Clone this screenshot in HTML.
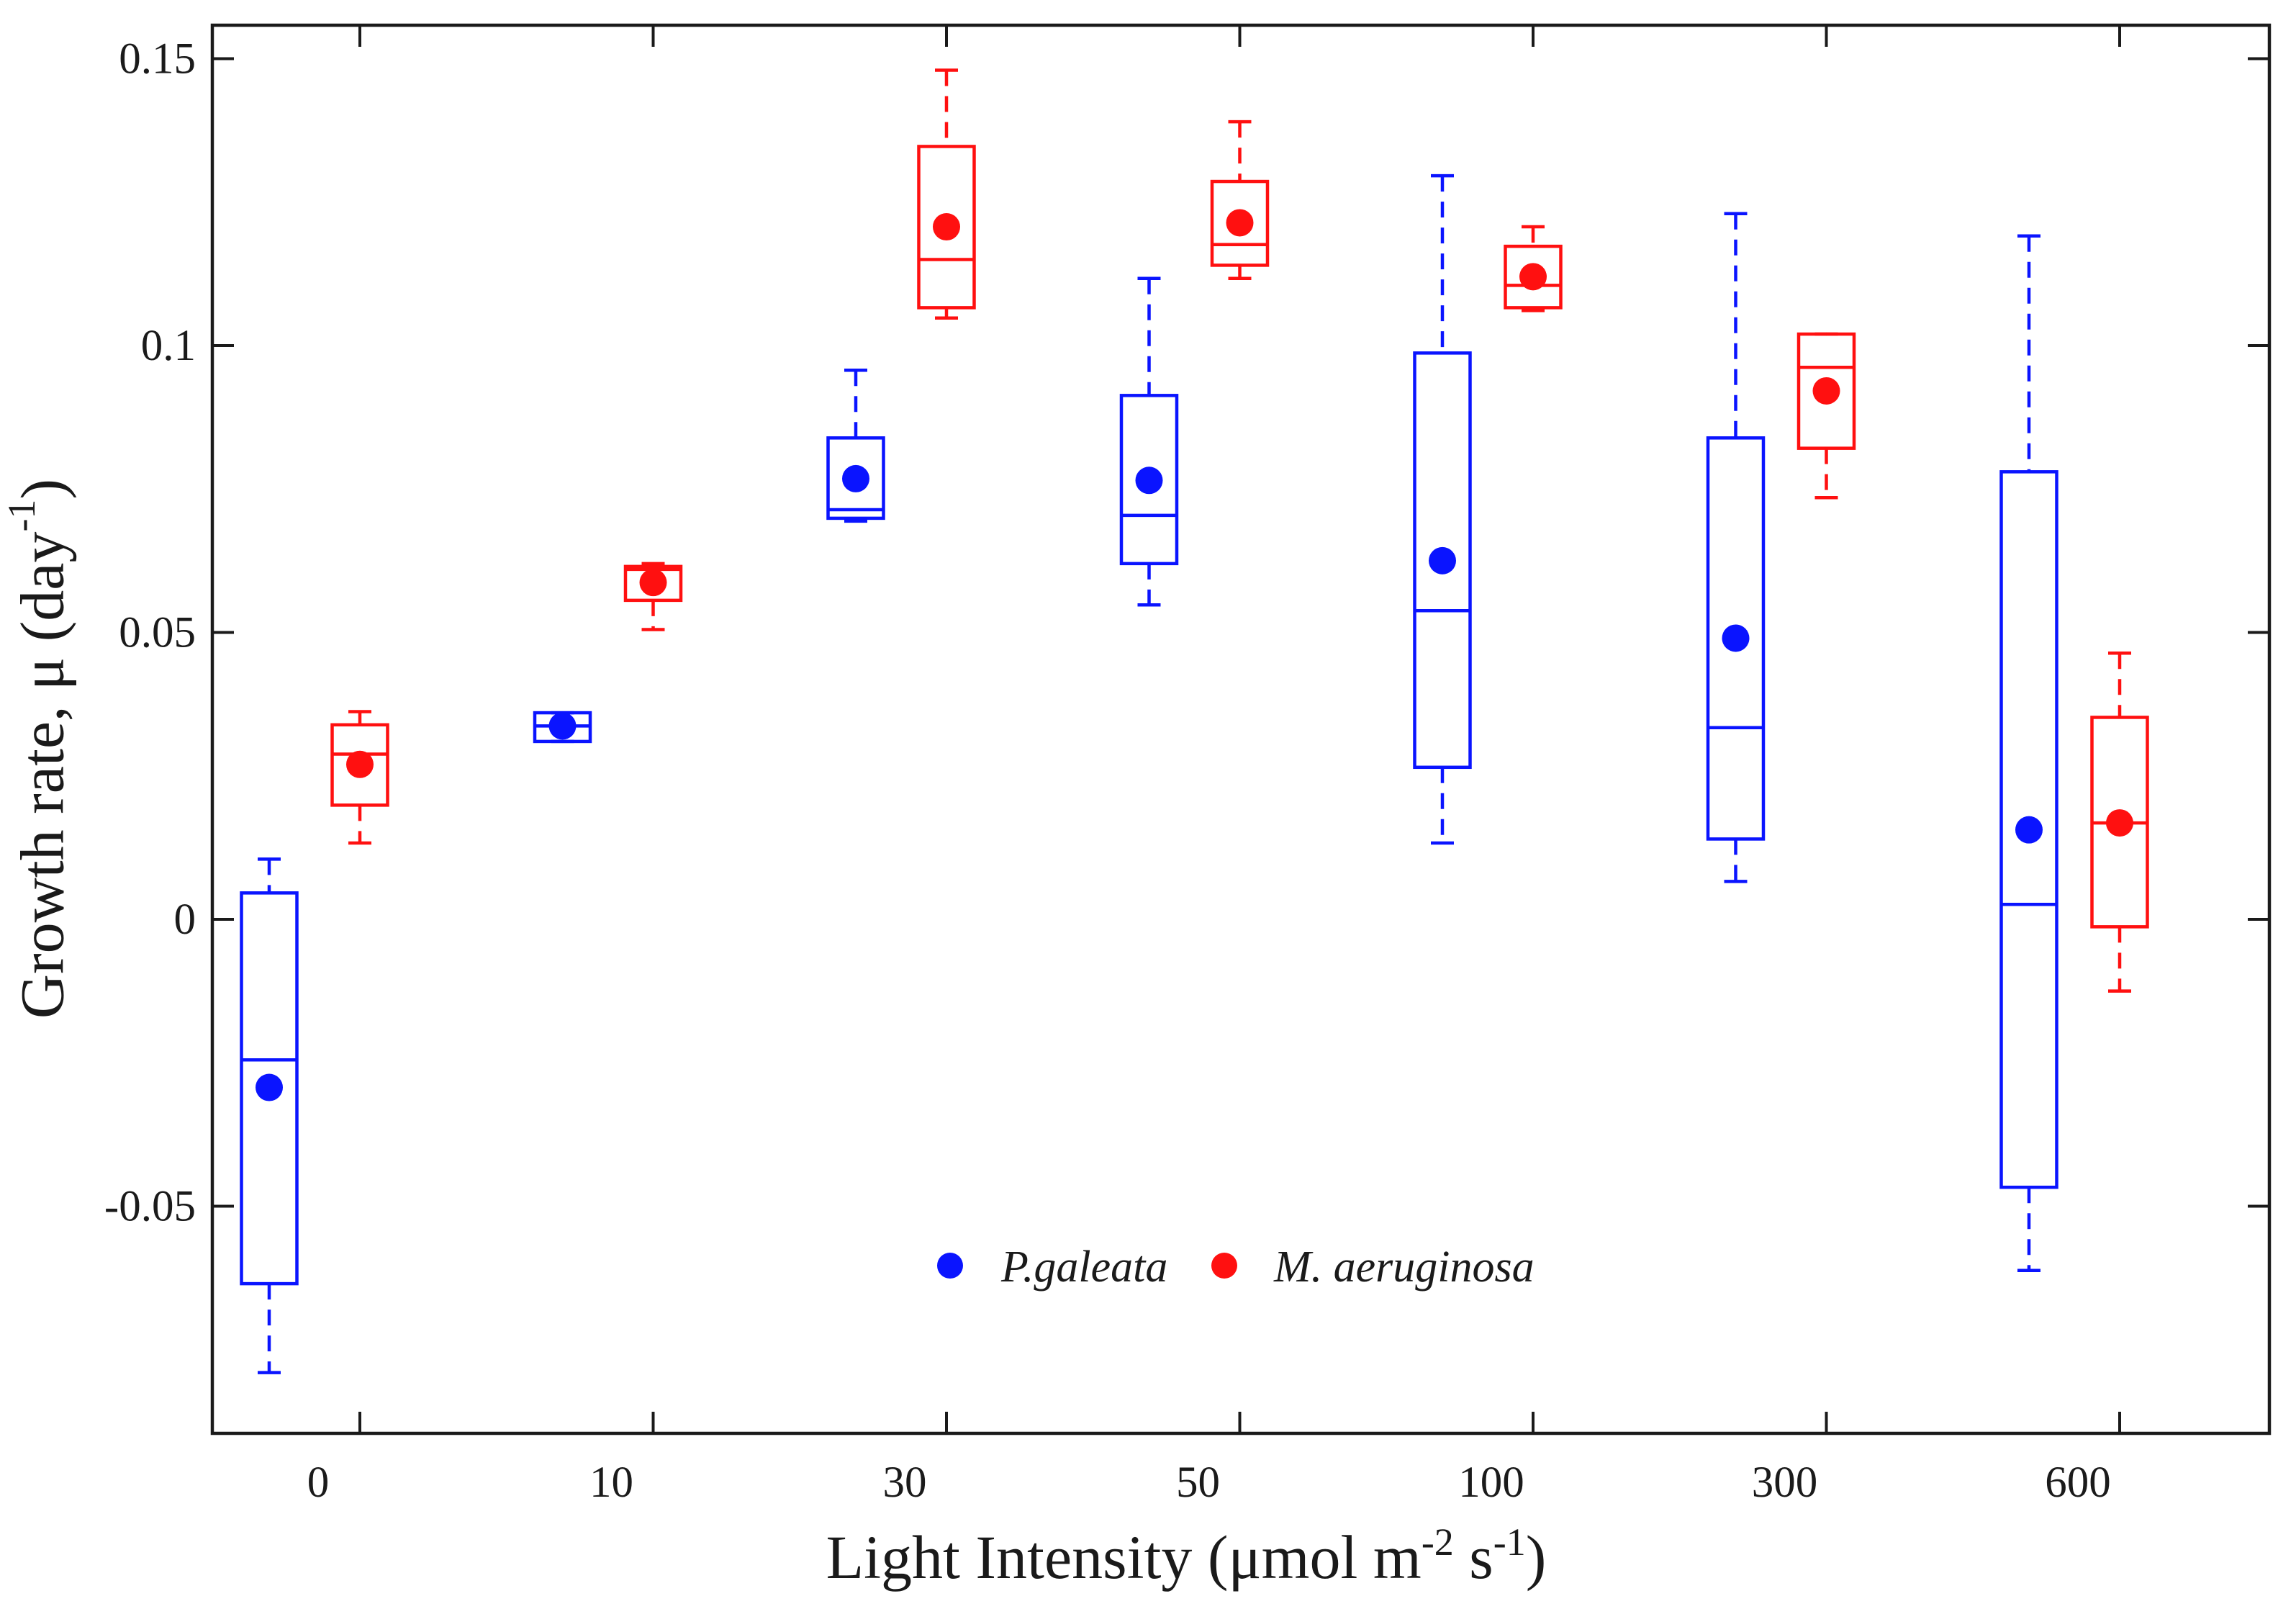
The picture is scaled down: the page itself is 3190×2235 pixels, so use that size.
<!DOCTYPE html>
<html><head><meta charset="utf-8"><style>
html,body{margin:0;padding:0;background:#fff}
svg{display:block}
text{font-family:"Liberation Serif",serif;fill:#1a1a1a}
</style></head><body>
<svg id="chart" width="3190" height="2235" viewBox="0 0 3190 2235">
<g id="plot"></g>
<text x="68" y="1040" transform="rotate(-90 68 1040)" text-anchor="middle" font-size="86" dominant-baseline="middle">Growth rate, μ (day<tspan font-size="54" dy="-32">-1</tspan><tspan dy="32">)</tspan></text>
<text x="1648" y="2192" text-anchor="middle" font-size="86">Light Intensity (μmol m<tspan font-size="54" dy="-32">-2</tspan><tspan dy="32"> s</tspan><tspan font-size="54" dy="-32">-1</tspan><tspan dy="32">)</tspan></text>
<g>
<g>
<circle cx="1320" cy="1758" r="18" fill="#0a14ff"/>
<text x="1391" y="1780" font-size="62" font-style="italic">P.galeata</text>
</g>
<g>
<circle cx="1701" cy="1758" r="18" fill="#ff1010"/>
<text x="1770" y="1780" font-size="62" font-style="italic">M. aeruginosa</text>
</g>
</g>
</svg>
<script>
const categories=["0","10","30","50","100","300","600"];
const blueHigh=[0.0105,0.036,0.0957,0.1117,0.1296,0.123,0.1191];
const blueQ3=[0.0046,0.036,0.0839,0.0913,0.0987,0.0839,0.078];
const blueMed=[-0.0245,0.0337,0.0714,0.0704,0.0538,0.0334,0.0026];
const blueQ1=[-0.0635,0.031,0.0699,0.062,0.0265,0.014,-0.0467];
const blueLow=[-0.079,0.031,0.0694,0.0548,0.0133,0.0066,-0.0612];
const blueMean=[-0.0293,0.0337,0.0768,0.0765,0.0625,0.049,0.0156];
const redHigh=[0.0362,0.062,0.148,0.139,0.1207,0.102,0.0464];
const redQ3=[0.0339,0.0615,0.1347,0.1286,0.1173,0.102,0.0352];
const redMed=[0.0288,0.061,0.115,0.1176,0.1105,0.0962,0.0168];
const redQ1=[0.0199,0.0556,0.1066,0.114,0.1066,0.0821,-0.0013];
const redLow=[0.0133,0.0505,0.1048,0.1117,0.1061,0.0735,-0.0125];
const redMean=[0.027,0.0587,0.1207,0.1214,0.112,0.0921,0.0168];
const yTicks=[0.15,0.1,0.05,0,-0.05];
const yTickLabels=["0.15","0.1","0.05","0","-0.05"];

const NS="http://www.w3.org/2000/svg";
const g=document.getElementById('plot');
const L=295,R=3153,T=35,B=1991;
function y(v){return 1277-v*7970;}
function xRed(i){return 500+i*407.5;}
function xBlue(i){return xRed(i)-126;}
function mk(tag,attrs,parent){const e=document.createElementNS(NS,tag);for(const k in attrs)e.setAttribute(k,attrs[k]);(parent||g).appendChild(e);return e;}

const frame=mk('rect',{x:L,y:T,width:R-L,height:B-T,fill:'none',stroke:'#1a1a1a','stroke-width':4.5});



yTicks.forEach((v,i)=>{
  const t1=mk('line',{x1:L,x2:L+30,y1:y(v),y2:y(v),stroke:'#1a1a1a','stroke-width':4});
  
  
  const t2=mk('line',{x1:R,x2:R-30,y1:y(v),y2:y(v),stroke:'#1a1a1a','stroke-width':4});
  
  
  const lb=mk('text',{x:272,y:y(v)+20,'text-anchor':'end','font-size':61});
  lb.textContent=yTickLabels[i];
  
  
});

categories.forEach((c,i)=>{
  const xr=xRed(i);
  const t1=mk('line',{x1:xr,x2:xr,y1:B,y2:B-30,stroke:'#1a1a1a','stroke-width':4});
  
  
  const t2=mk('line',{x1:xr,x2:xr,y1:T,y2:T+30,stroke:'#1a1a1a','stroke-width':4});
  
  
  const lb=mk('text',{x:xr-58,y:2079,'text-anchor':'middle','font-size':61});
  lb.textContent=c;
  
  
});

function box(cx,hi,q3,med,q1,lo,mean,col,name){
  const grp=mk('g',{});
  
  
  const w=77,cw=32,sw=4.5;
  mk('line',{x1:cx,x2:cx,y1:y(hi),y2:y(q3),stroke:col,'stroke-width':sw,'stroke-dasharray':'22,14'},grp);
  mk('line',{x1:cx,x2:cx,y1:y(q1),y2:y(lo),stroke:col,'stroke-width':sw,'stroke-dasharray':'22,14'},grp);
  mk('line',{x1:cx-cw/2,x2:cx+cw/2,y1:y(hi),y2:y(hi),stroke:col,'stroke-width':sw},grp);
  mk('line',{x1:cx-cw/2,x2:cx+cw/2,y1:y(lo),y2:y(lo),stroke:col,'stroke-width':sw},grp);
  mk('rect',{x:cx-w/2,y:y(q3),width:w,height:Math.max(1,y(q1)-y(q3)),fill:'none',stroke:col,'stroke-width':sw},grp);
  mk('line',{x1:cx-w/2,x2:cx+w/2,y1:y(med),y2:y(med),stroke:col,'stroke-width':sw},grp);
  mk('circle',{cx:cx,cy:y(mean),r:19,fill:col},grp);
}
categories.forEach((c,i)=>{
  box(xBlue(i),blueHigh[i],blueQ3[i],blueMed[i],blueQ1[i],blueLow[i],blueMean[i],'#0a14ff','box-pgaleata-'+c);
  box(xRed(i),redHigh[i],redQ3[i],redMed[i],redQ1[i],redLow[i],redMean[i],'#ff1010','box-maeruginosa-'+c);
});
</script>
</body></html>
